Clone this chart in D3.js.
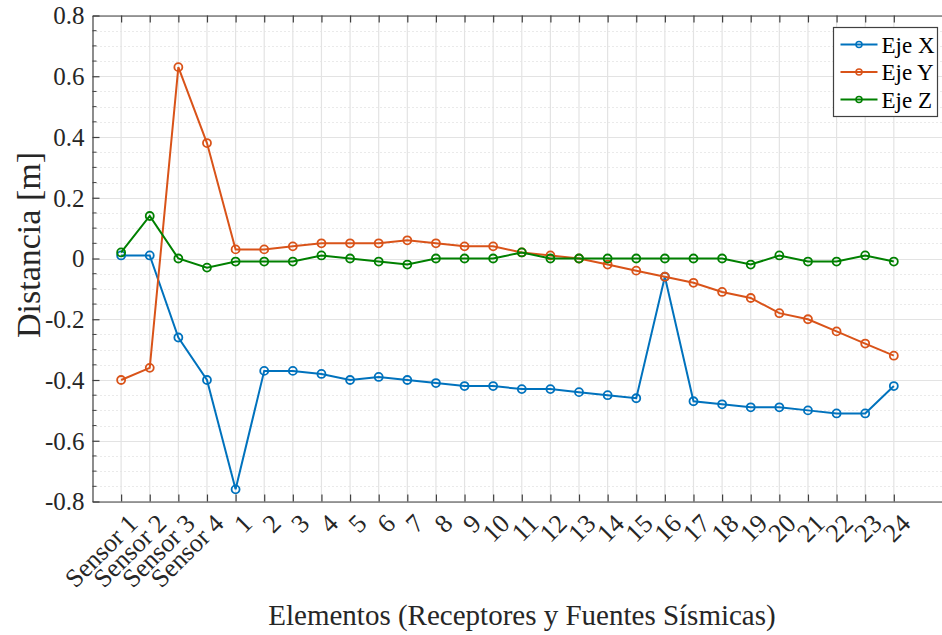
<!DOCTYPE html>
<html>
<head>
<meta charset="utf-8">
<script src="https://cdn.jsdelivr.net/npm/d3@7"></script>
<style>
  html, body { margin: 0; padding: 0; background: #fff; overflow: hidden; }
  svg { display: block; }
</style>
</head>
<body>
<svg id="chart" width="942" height="635"></svg>
<script>
// Element labels along the x axis
const categories = ["Sensor 1", "Sensor 2", "Sensor 3", "Sensor 4",
  "1", "2", "3", "4", "5", "6", "7", "8", "9", "10", "11", "12",
  "13", "14", "15", "16", "17", "18", "19", "20", "21", "22", "23", "24"];

// Distance per axis [m]
const ejeX = [0.01, 0.01, -0.26, -0.40, -0.76, -0.37, -0.37, -0.38, -0.40, -0.39, -0.40, -0.41, -0.42, -0.42,
  -0.43, -0.43, -0.44, -0.45, -0.46, -0.06, -0.47, -0.48, -0.49, -0.49, -0.50, -0.51, -0.51, -0.42];
const ejeY = [-0.40, -0.36, 0.63, 0.38, 0.03, 0.03, 0.04, 0.05, 0.05, 0.05, 0.06, 0.05, 0.04, 0.04,
  0.02, 0.01, 0.00, -0.02, -0.04, -0.06, -0.08, -0.11, -0.13, -0.18, -0.20, -0.24, -0.28, -0.32];
const ejeZ = [0.02, 0.14, 0.00, -0.03, -0.01, -0.01, -0.01, 0.01, 0.00, -0.01, -0.02, 0.00, 0.00, 0.00,
  0.02, 0.00, 0.00, 0.00, 0.00, 0.00, 0.00, 0.00, -0.02, 0.01, -0.01, -0.01, 0.01, -0.01];

const seriesNames = ["Eje X", "Eje Y", "Eje Z"];
const seriesColors = ["#0072BD", "#D95319", "#008000"];
const yTicks = [-0.8, -0.6, -0.4, -0.2, 0, 0.2, 0.4, 0.6, 0.8];

const series = [ejeX, ejeY, ejeZ].map((vals, i) => ({
  name: seriesNames[i], color: seriesColors[i],
  points: vals.map((v, j) => ({ i: j + 1, v }))
}));

const FONT = "'Liberation Serif', 'Times New Roman', serif";
const svg = d3.select("#chart");
const margin = { left: 92.5, top: 15.5 };
const plotW = 870, plotH = 486;

// x positions: category k sits at k (1-based); axis spans 0..30.4
const x = d3.scaleLinear().domain([0, 30.4]).range([margin.left, margin.left + plotW]);
const y = d3.scaleLinear().domain([-0.8, 0.8]).range([margin.top + plotH, margin.top]);

const g = svg.append("g");

// minor dotted horizontal grid every 0.05
const minor = d3.range(-0.8, 0.8001, 0.05).filter(v => Math.abs(Math.round(v * 100) % 20) !== 0);
g.append("g").selectAll("line").data(minor).join("line")
  .attr("x1", x(0)).attr("x2", x(30.4))
  .attr("y1", d => Math.round(y(d)) + 0.5).attr("y2", d => Math.round(y(d)) + 0.5)
  .attr("stroke", "#d4d4d4").attr("stroke-width", 1).attr("stroke-dasharray", "1,3");

// major grid
g.append("g").selectAll("line").data(yTicks).join("line")
  .attr("x1", x(0)).attr("x2", x(30.4))
  .attr("y1", d => Math.round(y(d)) + 0.5).attr("y2", d => Math.round(y(d)) + 0.5)
  .attr("stroke", "#e3e3e3").attr("stroke-width", 1.2);
g.append("g").selectAll("line").data(categories.map((c, k) => k + 1)).join("line")
  .attr("x1", d => x(d)).attr("x2", d => x(d))
  .attr("y1", y(0.8)).attr("y2", y(-0.8))
  .attr("stroke", "#e3e3e3").attr("stroke-width", 1.2);

// axes
const xAxisBottom = d3.axisBottom(x).tickValues(categories.map((c, k) => k + 1))
  .tickFormat(d => categories[d - 1]).tickSizeInner(-7).tickSizeOuter(0).tickPadding(8);
const xAxisTop = d3.axisTop(x).tickValues(categories.map((c, k) => k + 1))
  .tickFormat("").tickSizeInner(-7).tickSizeOuter(0);
const yAxis = d3.axisLeft(y).tickValues(yTicks)
  .tickFormat(d => d === 0 ? "0" : d3.format(".1f")(d).replace("−", "-"))
  .tickSizeInner(-7).tickSizeOuter(0).tickPadding(8);

const ax = svg.append("g").attr("transform", `translate(0,${y(-0.8)})`).call(xAxisBottom)
  .attr("font-family", null);
ax.selectAll("text")
  .style("font-family", FONT)
  .attr("font-size", 26).attr("fill", "#262626")
  .attr("text-anchor", "end")
  .attr("dy", "0")
  .attr("transform", "translate(12,18) rotate(-45)");
svg.append("g").attr("transform", `translate(0,${y(0.8)})`).call(xAxisTop);

const ay = svg.append("g").attr("transform", `translate(${x(0)},0)`).call(yAxis)
  .attr("font-family", null);
ay.selectAll("text")
  .style("font-family", FONT)
  .attr("font-size", 25).attr("fill", "#262626").attr("dy", "0.33em");

// minor y ticks
svg.append("g").selectAll("line").data(minor).join("line")
  .attr("x1", x(0)).attr("x2", x(0) + 4)
  .attr("y1", d => y(d)).attr("y2", d => y(d))
  .attr("stroke", "#404040").attr("stroke-width", 1);

svg.selectAll(".domain").attr("stroke", "#404040").attr("stroke-width", 1.2);
svg.selectAll(".tick line").attr("stroke", "#404040").attr("stroke-width", 1.2);

// series lines and hollow circle markers
const line = d3.line().x(d => x(d.i)).y(d => y(d.v));
const sg = svg.append("g").selectAll("g").data(series).join("g");
sg.append("path")
  .attr("d", d => line(d.points))
  .attr("fill", "none").attr("stroke", d => d.color).attr("stroke-width", 2);
sg.each(function (s) {
  d3.select(this).selectAll("circle").data(s.points).join("circle")
    .attr("cx", d => x(d.i)).attr("cy", d => y(d.v)).attr("r", 4)
    .attr("fill", "none").attr("stroke", s.color).attr("stroke-width", 1.8);
});

// axis titles
svg.append("text")
  .style("font-family", FONT)
  .attr("transform", "translate(40,245) rotate(-90)")
  .attr("text-anchor", "middle").attr("font-size", 34).attr("fill", "#262626")
  .text("Distancia [m]");
svg.append("text")
  .style("font-family", FONT)
  .attr("x", 522).attr("y", 625)
  .attr("text-anchor", "middle").attr("font-size", 29).attr("fill", "#262626")
  .text("Elementos (Receptores y Fuentes Sísmicas)");

// legend
const lg = svg.append("g").attr("transform", "translate(833.5,27.5)");
lg.append("rect").attr("width", 104).attr("height", 89)
  .attr("fill", "#fff").attr("stroke", "#404040").attr("stroke-width", 1.2);
series.forEach((s, k) => {
  const yy = 17 + k * 27.5;
  lg.append("line").attr("x1", 7).attr("x2", 44).attr("y1", yy).attr("y2", yy)
    .attr("stroke", s.color).attr("stroke-width", 2);
  lg.append("circle").attr("cx", 25.5).attr("cy", yy).attr("r", 3)
    .attr("fill", "none").attr("stroke", s.color).attr("stroke-width", 1.5);
  lg.append("text").style("font-family", FONT)
    .attr("x", 48).attr("y", yy).attr("dy", "0.35em")
    .attr("font-size", 23).attr("fill", "#000").text(s.name);
});
</script>
</body>
</html>
